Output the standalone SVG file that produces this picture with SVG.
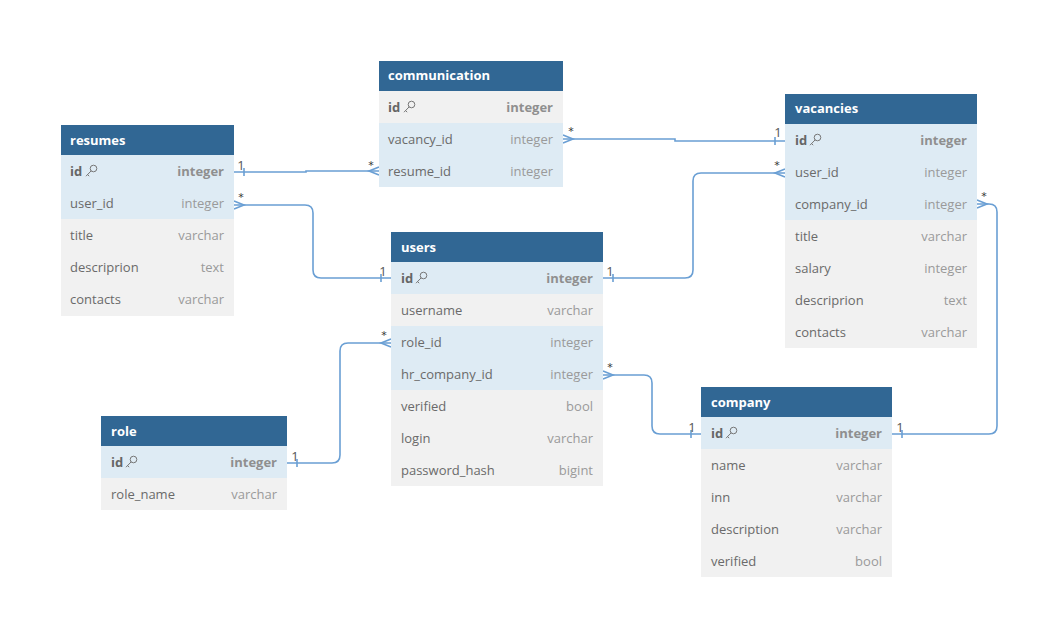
<svg xmlns="http://www.w3.org/2000/svg" width="1060" height="638" viewBox="0 0 1060 638">
<defs>
<style>
.hd{fill:#316794}
.bl{fill:#deebf4}
.gr{fill:#f1f1f1}
.ht{font-family:"Open Sans","Noto Sans",sans-serif;font-size:13px;font-weight:bold;fill:#fff}
.fn{font-family:"Open Sans","Noto Sans",sans-serif;font-size:13px;fill:#6a6a6a}
.ft{font-family:"Open Sans","Noto Sans",sans-serif;font-size:13px;fill:#9a9a9a;text-anchor:end}
.pk{font-weight:bold;fill:#666}
.pt{font-weight:bold;fill:#8f8f8f}
.ln{fill:none;stroke:#6a9fd4;stroke-width:1.6}
.lb{font-family:"Open Sans","Noto Sans",sans-serif;font-size:13px;fill:#555;text-anchor:middle}
.st{font-family:"DejaVu Sans",sans-serif;font-size:11px;fill:#333;text-anchor:middle}
.key{fill:none;stroke:#777;stroke-width:1}
</style>
<g id="k"><circle class="key" cx="7.5" cy="-3.5" r="3.3"/><path class="key" d="M5.2,-1.2 L0,4.2 M1.6,2.6 L3.2,4.2"/></g>
</defs>

<g id="connectors">
<path class="ln" d="M234,172 H306 V171 H379"/>
<path class="ln" d="M244,168 V176"/>
<path class="ln" d="M379,167 L369,171 L379,175"/>
<text class="lb" x="241" y="170">1</text>
<text class="st" x="371" y="169">*</text>

<path class="ln" d="M234,205 H305 Q313,205 313,213 V270 Q313,278 321,278 H391"/>
<path class="ln" d="M234,201 L244,205 L234,209"/>
<path class="ln" d="M381,274 V282"/>
<text class="st" x="241" y="201">*</text>
<text class="lb" x="383" y="276">1</text>

<path class="ln" d="M563,139 H675 V141 H785"/>
<path class="ln" d="M563,135 L573,139 L563,143"/>
<path class="ln" d="M775,137 V145"/>
<text class="st" x="571" y="135">*</text>
<text class="lb" x="778" y="137">1</text>

<path class="ln" d="M603,278 H685 Q693,278 693,270 V181 Q693,173 701,173 H785"/>
<path class="ln" d="M613,274 V282"/>
<path class="ln" d="M785,169 L775,173 L785,177"/>
<text class="lb" x="610" y="276">1</text>
<text class="st" x="777" y="169">*</text>

<path class="ln" d="M287,463 H332 Q340,463 340,455 V351 Q340,343 348,343 H391"/>
<path class="ln" d="M297,459 V467"/>
<path class="ln" d="M391,339 L381,343 L391,347"/>
<text class="lb" x="295" y="461">1</text>
<text class="st" x="384" y="339">*</text>

<path class="ln" d="M603,375 H644 Q652,375 652,383 V426 Q652,434 660,434 H701"/>
<path class="ln" d="M603,371 L613,375 L603,379"/>
<path class="ln" d="M691,430 V438"/>
<text class="st" x="610" y="371">*</text>
<text class="lb" x="692" y="432">1</text>

<path class="ln" d="M977,204 H989 Q997,204 997,212 V426 Q997,434 989,434 H892"/>
<path class="ln" d="M977,200 L987,204 L977,208"/>
<path class="ln" d="M902,430 V438"/>
<text class="st" x="984" y="200">*</text>
<text class="lb" x="900" y="432">1</text>
</g>

<g id="communication">
<rect class="hd" x="379" y="61" width="184" height="30"/>
<rect class="gr" x="379" y="91" width="184" height="32"/>
<rect class="bl" x="379" y="123" width="184" height="64"/>
<text class="ht" x="388" y="80">communication</text>
<text class="fn pk" x="388" y="112">id</text><use href="#k" x="404" y="108"/>
<text class="ft pt" x="553" y="112">integer</text>
<text class="fn" x="388" y="144">vacancy_id</text><text class="ft" x="553" y="144">integer</text>
<text class="fn" x="388" y="176">resume_id</text><text class="ft" x="553" y="176">integer</text>
</g>

<g id="resumes">
<rect class="hd" x="61" y="125" width="173" height="30"/>
<rect class="bl" x="61" y="155" width="173" height="64"/>
<rect class="gr" x="61" y="219" width="173" height="97"/>
<text class="ht" x="70" y="145">resumes</text>
<text class="fn pk" x="70" y="176">id</text><use href="#k" x="86" y="172"/>
<text class="ft pt" x="224" y="176">integer</text>
<text class="fn" x="70" y="208">user_id</text><text class="ft" x="224" y="208">integer</text>
<text class="fn" x="70" y="240">title</text><text class="ft" x="224" y="240">varchar</text>
<text class="fn" x="70" y="272">descriprion</text><text class="ft" x="224" y="272">text</text>
<text class="fn" x="70" y="304">contacts</text><text class="ft" x="224" y="304">varchar</text>
</g>

<g id="vacancies">
<rect class="hd" x="785" y="94" width="192" height="30"/>
<rect class="bl" x="785" y="124" width="192" height="96"/>
<rect class="gr" x="785" y="220" width="192" height="128"/>
<text class="ht" x="795" y="113">vacancies</text>
<text class="fn pk" x="795" y="145">id</text><use href="#k" x="810" y="141"/>
<text class="ft pt" x="967" y="145">integer</text>
<text class="fn" x="795" y="177">user_id</text><text class="ft" x="967" y="177">integer</text>
<text class="fn" x="795" y="209">company_id</text><text class="ft" x="967" y="209">integer</text>
<text class="fn" x="795" y="241">title</text><text class="ft" x="967" y="241">varchar</text>
<text class="fn" x="795" y="273">salary</text><text class="ft" x="967" y="273">integer</text>
<text class="fn" x="795" y="305">descriprion</text><text class="ft" x="967" y="305">text</text>
<text class="fn" x="795" y="337">contacts</text><text class="ft" x="967" y="337">varchar</text>
</g>

<g id="users">
<rect class="hd" x="391" y="232" width="212" height="30"/>
<rect class="bl" x="391" y="262" width="212" height="32"/>
<rect class="gr" x="391" y="294" width="212" height="32"/>
<rect class="bl" x="391" y="326" width="212" height="64"/>
<rect class="gr" x="391" y="390" width="212" height="96"/>
<text class="ht" x="401" y="252">users</text>
<text class="fn pk" x="401" y="283">id</text><use href="#k" x="416" y="279"/>
<text class="ft pt" x="593" y="283">integer</text>
<text class="fn" x="401" y="315">username</text><text class="ft" x="593" y="315">varchar</text>
<text class="fn" x="401" y="347">role_id</text><text class="ft" x="593" y="347">integer</text>
<text class="fn" x="401" y="379">hr_company_id</text><text class="ft" x="593" y="379">integer</text>
<text class="fn" x="401" y="411">verified</text><text class="ft" x="593" y="411">bool</text>
<text class="fn" x="401" y="443">login</text><text class="ft" x="593" y="443">varchar</text>
<text class="fn" x="401" y="475">password_hash</text><text class="ft" x="593" y="475">bigint</text>
</g>

<g id="role">
<rect class="hd" x="101" y="416" width="186" height="30"/>
<rect class="bl" x="101" y="446" width="186" height="32"/>
<rect class="gr" x="101" y="478" width="186" height="32"/>
<text class="ht" x="111" y="436">role</text>
<text class="fn pk" x="111" y="467">id</text><use href="#k" x="126" y="463"/>
<text class="ft pt" x="277" y="467">integer</text>
<text class="fn" x="111" y="499">role_name</text><text class="ft" x="277" y="499">varchar</text>
</g>

<g id="company">
<rect class="hd" x="701" y="387" width="191" height="30"/>
<rect class="bl" x="701" y="417" width="191" height="32"/>
<rect class="gr" x="701" y="449" width="191" height="128"/>
<text class="ht" x="711" y="407">company</text>
<text class="fn pk" x="711" y="438">id</text><use href="#k" x="726" y="434"/>
<text class="ft pt" x="882" y="438">integer</text>
<text class="fn" x="711" y="470">name</text><text class="ft" x="882" y="470">varchar</text>
<text class="fn" x="711" y="502">inn</text><text class="ft" x="882" y="502">varchar</text>
<text class="fn" x="711" y="534">description</text><text class="ft" x="882" y="534">varchar</text>
<text class="fn" x="711" y="566">verified</text><text class="ft" x="882" y="566">bool</text>
</g>
</svg>
